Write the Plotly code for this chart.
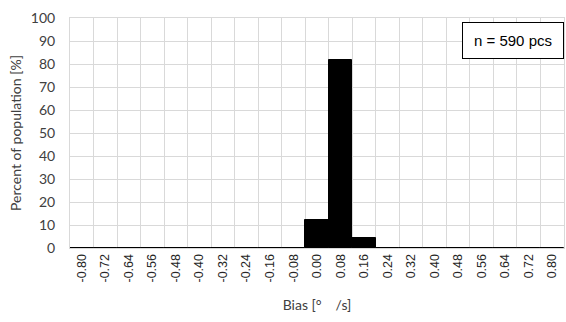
import plotly.graph_objects as go

# Bias bins (deg/s) and share of population in each bin (%)
bins = ["-0.80", "-0.72", "-0.64", "-0.56", "-0.48", "-0.40", "-0.32", "-0.24",
        "-0.16", "-0.08", "0.00", "0.08", "0.16", "0.24", "0.32", "0.40",
        "0.48", "0.56", "0.64", "0.72", "0.80"]
percent = [0, 0, 0, 0, 0, 0, 0, 0, 0, 0, 12.2, 81.7, 4.2,
           0, 0, 0, 0, 0, 0, 0, 0]
y_ticks = list(range(0, 101, 10))
sample_label = "n = 590 pcs"

grid = "#d9d9d9"
title_font = dict(family="Lato, Carlito, Calibri, sans-serif", size=14, color="#404040")

fig = go.Figure(go.Bar(
    x=bins, y=percent,
    marker=dict(color="black", line=dict(color="black", width=1)),
    width=1,
))

fig.update_layout(
    width=566, height=322,
    margin=dict(l=70, r=2, t=18, b=74),
    paper_bgcolor="white", plot_bgcolor="white",
    bargap=0, showlegend=False,
    xaxis=dict(
        type="category", tickson="boundaries",
        showgrid=True, gridcolor=grid, gridwidth=1,
        showline=True, linecolor=grid, mirror=True,
        ticks="outside", ticklen=19, tickcolor="rgba(0,0,0,0)",
        tickangle=-90,
        tickfont=dict(family="Liberation Sans, Arial, sans-serif", size=12.5, color="#262626"),
        title=dict(text="Bias [°\u2002\u2002/s]", font=title_font, standoff=18),
        range=[-0.5, len(bins) - 0.5],
    ),
    yaxis=dict(
        range=[0, 100], tickvals=y_ticks,
        showgrid=True, gridcolor=grid, gridwidth=1,
        showline=True, linecolor=grid, mirror=True, zeroline=False,
        ticks="outside", ticklen=11, tickcolor="rgba(0,0,0,0)",
        tickfont=dict(family="Lato, Carlito, Calibri, sans-serif", size=14, color="#404040"),
        title=dict(text="Percent of population [%]", font=title_font, standoff=5),
    ),
    annotations=[dict(
        text=sample_label, xref="paper", yref="paper",
        x=1.0, y=(248 - 22) / 230, xanchor="right", yanchor="top",
        showarrow=False, align="center",
        font=dict(family="Liberation Sans, Arial, sans-serif", size=15, color="black"),
        bgcolor="white", bordercolor="black", borderwidth=1, borderpad=3,
        width=94, height=29,
    )],
)

fig.write_html("out.html")
